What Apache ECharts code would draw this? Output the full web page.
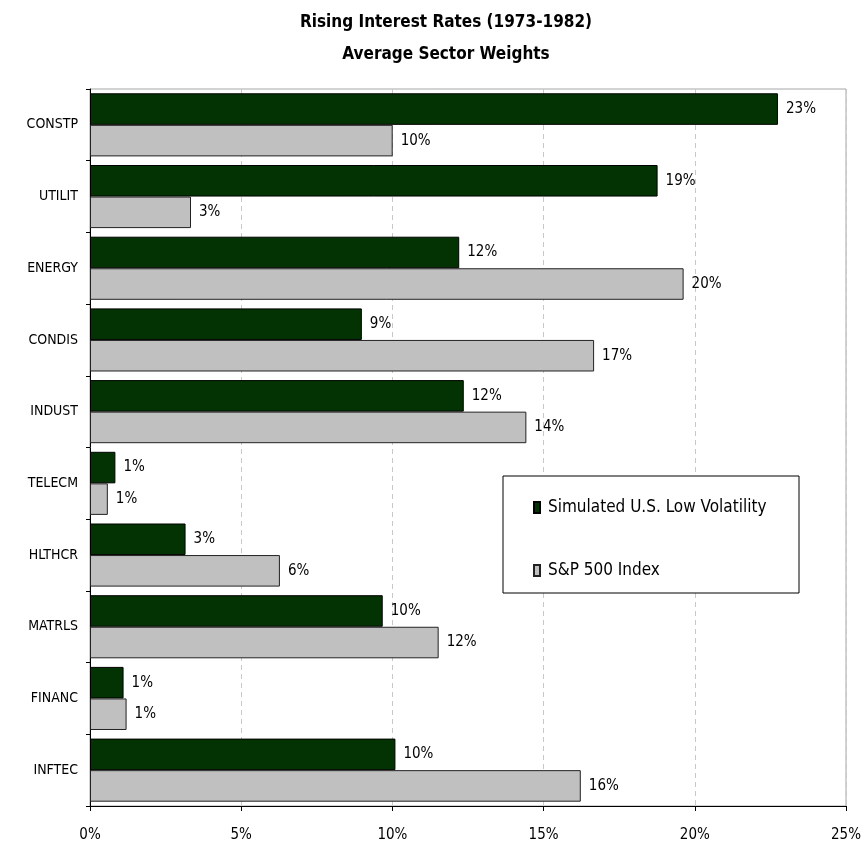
<!DOCTYPE html>
<html>
<head>
<meta charset="utf-8">
<title>Rising Interest Rates (1973-1982) - Average Sector Weights</title>
<script src="https://cdn.jsdelivr.net/npm/echarts@6/dist/echarts.min.js"></script>
<style>
  html, body { margin: 0; padding: 0; background: #ffffff; }
  #chart { width: 865px; height: 853px; }
</style>
</head>
<body>
<div id="chart"></div>
<script>
// Sector categories, top to bottom
const sectors = ['CONSTP', 'UTILIT', 'ENERGY', 'CONDIS', 'INDUST', 'TELECM', 'HLTHCR', 'MATRLS', 'FINANC', 'INFTEC'];

// Average sector weights (%)
const lowVolWeights = [22.75, 18.77, 12.21, 8.99, 12.36, 0.84, 3.16, 9.68, 1.11, 10.10];
const sp500Weights  = [10.01, 3.34, 19.63, 16.67, 14.43, 0.59, 6.28, 11.53, 1.21, 16.23];

// Series names
const seriesNames = ['Simulated U.S. Low Volatility', 'S&P 500 Index'];

// Value axis ticks
const axisMin = 0, axisMax = 25, axisStep = 5;

const FONT = "'Liberation Sans Narrow', 'Arial Narrow', 'DejaVu Sans Condensed', sans-serif";

const chart = echarts.init(document.getElementById('chart'), null, { renderer: 'canvas' });

const pctLabel = {
  show: true,
  position: 'right',
  distance: 8,
  color: '#000',
  fontFamily: FONT,
  fontSize: 15,
  formatter: p => Math.round(p.value) + '%'
};

chart.setOption({
  backgroundColor: '#ffffff',
  animation: false,
  textStyle: { fontFamily: FONT },
  title: {
    text: 'Rising Interest Rates (1973-1982)\nAverage Sector Weights',
    left: 441,
    textAlign: 'center',
    top: 2,
    textStyle: {
      fontFamily: FONT,
      fontWeight: 'bold',
      fontSize: 17,
      lineHeight: 32,
      color: '#000'
    }
  },
  grid: {
    left: 90,
    right: 19,
    top: 89,
    bottom: 47,
    show: true,
    borderColor: '#a6a6a6',
    borderWidth: 1,
    backgroundColor: 'transparent'
  },
  legend: {
    orient: 'vertical',
    left: 528,
    top: 494,
    itemWidth: 6,
    itemHeight: 11,
    itemGap: 46,
    icon: 'rect',
    z: 5,
    textStyle: { fontFamily: FONT, fontSize: 17, color: '#000', padding: [0, 0, 0, 3] },
    data: seriesNames
  },
  graphic: [{
    type: 'rect',
    z: 4,
    shape: { x: 503, y: 476, width: 296, height: 117 },
    style: { fill: '#ffffff', stroke: '#000', lineWidth: 1 }
  }],
  xAxis: {
    type: 'value',
    min: axisMin,
    max: axisMax,
    interval: axisStep,
    axisLine: { show: true, lineStyle: { color: '#000', width: 1 } },
    axisTick: { show: true, length: 5, lineStyle: { color: '#000' } },
    axisLabel: {
      formatter: '{value}%',
      fontFamily: FONT,
      fontSize: 15,
      color: '#000',
      margin: 22
    },
    splitLine: { show: true, lineStyle: { color: '#c8c8c8', type: [5, 4], width: 1 } }
  },
  yAxis: {
    type: 'category',
    inverse: true,
    data: sectors,
    axisLine: { show: true, lineStyle: { color: '#000', width: 1 } },
    axisTick: { show: true, length: 4, lineStyle: { color: '#000' } },
    axisLabel: {
      fontFamily: FONT,
      fontSize: 14,
      color: '#000',
      margin: 12
    }
  },
  series: [
    {
      name: seriesNames[0],
      type: 'bar',
      data: lowVolWeights,
      barGap: '0%',
      barCategoryGap: '12%',
      itemStyle: { color: '#033303', borderColor: '#000', borderWidth: 1 },
      label: pctLabel
    },
    {
      name: seriesNames[1],
      type: 'bar',
      data: sp500Weights,
      barGap: '0%',
      barCategoryGap: '12%',
      itemStyle: { color: '#c0c0c0', borderColor: '#222', borderWidth: 1 },
      label: pctLabel
    }
  ]
});
</script>
</body>
</html>
